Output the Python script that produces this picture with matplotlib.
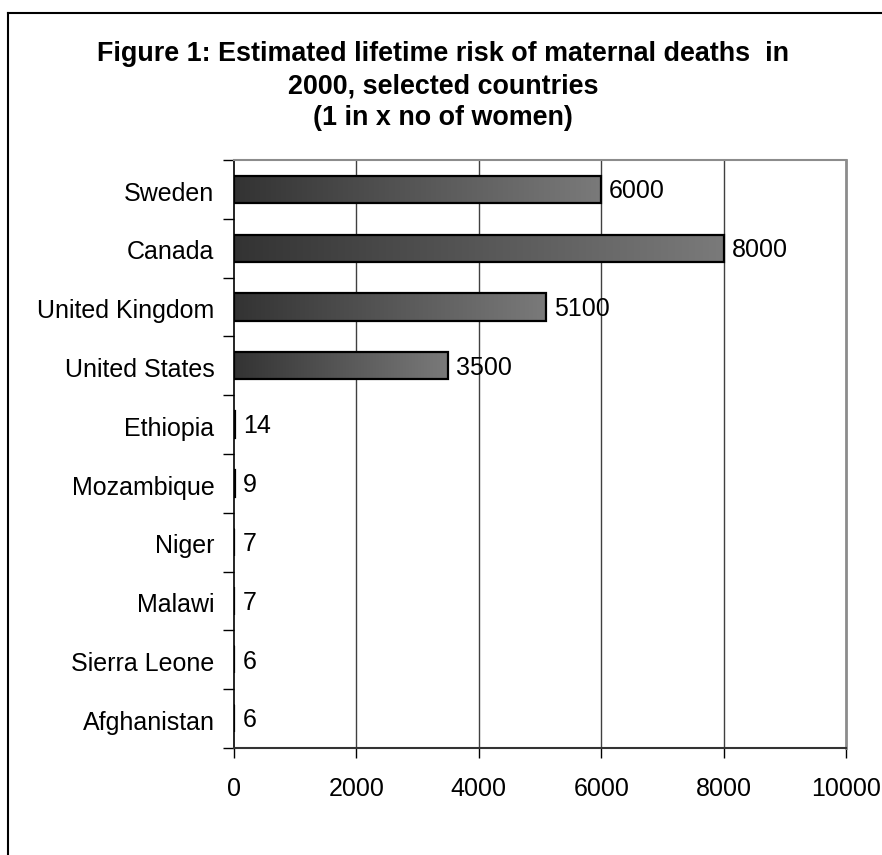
import numpy as np
import matplotlib.pyplot as plt
from matplotlib.colors import LinearSegmentedColormap
from matplotlib.lines import Line2D

plt.rcParams['font.family'] = ['Liberation Sans', 'DejaVu Sans']

countries = ['Sweden', 'Canada', 'United Kingdom', 'United States', 'Ethiopia',
             'Mozambique', 'Niger', 'Malawi', 'Sierra Leone', 'Afghanistan']
risk = [6000, 8000, 5100, 3500, 14, 9, 7, 7, 6, 6]
xticks = [0, 2000, 4000, 6000, 8000, 10000]

W, H = 882, 855
fig = plt.figure(figsize=(W / 100, H / 100), dpi=100)
ax = fig.add_axes([234 / W, 1 - 748 / H, 612 / W, 588 / H])

# chart frame (runs off the right and bottom of the image)
fig.add_artist(Line2D([8 / W, 8 / W], [0, 1 - 13 / H], transform=fig.transFigure,
                      color='black', lw=1.5))
fig.add_artist(Line2D([8 / W, 1], [1 - 13 / H, 1 - 13 / H], transform=fig.transFigure,
                      color='black', lw=1.5))

fig.text(0.502, 1 - 86 / H, 'Figure 1: Estimated lifetime risk of maternal deaths  in\n'
         '2000, selected countries\n(1 in x no of women)',
         ha='center', va='center', fontsize=19.4, fontweight='bold', linespacing=1.3)

cmap = LinearSegmentedColormap.from_list('bargrad', ['#333333', '#7a7a7a'])
grad = np.linspace(0, 1, 256).reshape(1, -1)
bar_h = 0.46
ypos = np.arange(len(countries))

for y, v in zip(ypos, risk):
    ax.imshow(grad, cmap=cmap, aspect='auto', zorder=2,
              extent=[0, v, y + bar_h / 2, y - bar_h / 2])
    ax.add_patch(plt.Rectangle((0, y - bar_h / 2), v, bar_h, fill=False,
                               ec='black', lw=1.6, zorder=3))
    ax.text(v + 130, y + 0.03, str(v), va='center', ha='left', fontsize=18, zorder=4)

ax.set_xlim(0, 10000)
ax.set_ylim(len(countries) - 0.5, -0.5)

ax.set_xticks(xticks)
ax.set_xticklabels([str(t) for t in xticks])
ax.tick_params(axis='x', direction='out', length=7, width=1, pad=14, labelsize=18)

ax.set_yticks(ypos + 0.03)
ax.set_yticklabels(countries)
ax.tick_params(axis='y', which='major', length=0, pad=14, labelsize=18)
ax.set_yticks(np.arange(len(countries) + 1) - 0.5, minor=True)
ax.tick_params(axis='y', which='minor', direction='out', length=8, width=1)

for t in xticks[1:-1]:
    ax.axvline(t, color='#404040', lw=1, zorder=1)

ax.spines['left'].set_color('black')
ax.spines['left'].set_linewidth(1.2)
ax.spines['bottom'].set_color('#333333')
ax.spines['bottom'].set_linewidth(1.5)
ax.spines['top'].set_color('#8c8c8c')
ax.spines['top'].set_linewidth(1.5)
ax.spines['right'].set_color('#8c8c8c')
ax.spines['right'].set_linewidth(2)

fig.savefig('out.png', dpi=100)
